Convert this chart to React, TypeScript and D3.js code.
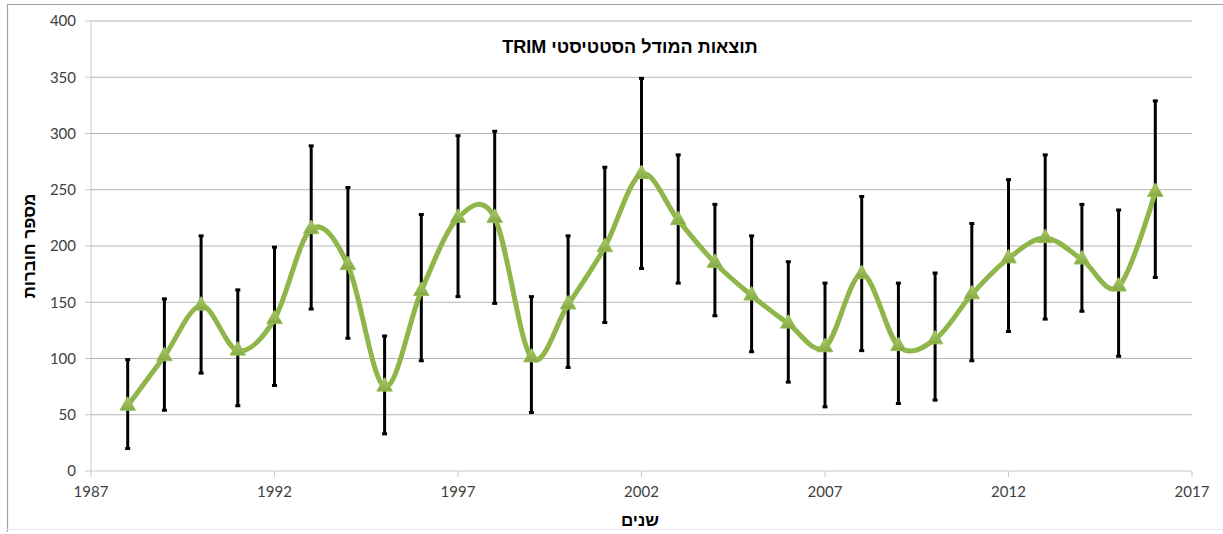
import React from "react";
import * as d3 from "d3";

const years = [1988, 1989, 1990, 1991, 1992, 1993, 1994, 1995, 1996, 1997, 1998, 1999, 2000, 2001, 2002, 2003, 2004, 2005, 2006, 2007, 2008, 2009, 2010, 2011, 2012, 2013, 2014, 2015, 2016];
const values = [58, 102, 147, 107, 135, 215, 183, 75, 160, 225, 225, 101, 148, 199, 264, 223, 185, 156, 131, 110, 175, 111, 117, 157, 189, 207, 188, 164, 248];
const upper = [99, 153, 209, 161, 199, 289, 252, 120, 228, 298, 302, 155, 209, 270, 349, 281, 237, 209, 186, 167, 244, 167, 176, 220, 259, 281, 237, 232, 329];
const lower = [20, 54, 87, 58, 76, 144, 118, 33, 98, 155, 149, 52, 92, 132, 180, 167, 138, 106, 79, 57, 107, 60, 63, 98, 124, 135, 142, 102, 172];
const xTicks = [1987, 1992, 1997, 2002, 2007, 2012, 2017];
const yTicks = [0, 50, 100, 150, 200, 250, 300, 350, 400];

const title = "תוצאות המודל הסטטיסטי TRIM";
const xTitle = "שנים";
const yTitle = "מספר חוברות";

export default function App() {
  const W = 1223, H = 534;
  const x = d3.scaleLinear().domain([1987, 2017]).range([91, 1192]);
  const y = d3.scaleLinear().domain([0, 400]).range([471, 21]);
  const pts: [number, number][] = years.map((yr, i) => [x(yr), y(values[i])]);
  const line = d3.line().curve(d3.curveCardinal.tension(0))(pts) || "";
  const tri = d3.symbol().type(d3.symbolTriangle).size(105)() || "";
  const labelFont = "Lato, 'Open Sans', 'Liberation Sans', sans-serif";
  const hebFont = "'Liberation Sans', 'DejaVu Sans', Arial, sans-serif";
  return (
    <svg width={W} height={H} style={{ position: "absolute", left: 0, top: 0, background: "#fff" }}>
      <defs>
        <linearGradient id="triG" x1="0" y1="0" x2="0" y2="1">
          <stop offset="0%" stopColor="#a9cb6a" />
          <stop offset="100%" stopColor="#86a844" />
        </linearGradient>
      </defs>
      {/* frame */}
      <line x1={7} x2={W} y1={4.5} y2={4.5} stroke="#a0a0a0" strokeWidth={1.2} />
      <line x1={7.5} x2={7.5} y1={4} y2={532} stroke="#a0a0a0" strokeWidth={1.2} />
      <line x1={7} x2={W} y1={529.5} y2={529.5} stroke="#ececec" strokeWidth={1} />
      {/* gridlines */}
      {yTicks.map((t) => (
        <line key={"g" + t} x1={x(1987)} x2={x(2017)} y1={y(t)} y2={y(t)} stroke={t === 0 ? "#c8c8c8" : "#b4b4b4"} strokeWidth={1} />
      ))}
      {/* y axis */}
      <line x1={x(1987)} x2={x(1987)} y1={y(400)} y2={y(0)} stroke="#c8c8c8" strokeWidth={1} />
      {yTicks.map((t) => (
        <line key={"yt" + t} x1={x(1987) - 6} x2={x(1987)} y1={y(t)} y2={y(t)} stroke="#c8c8c8" />
      ))}
      {yTicks.map((t) => (
        <text key={"yl" + t} x={76} y={y(t)} dy="0.35em" textAnchor="end" fontSize={15} fill="#404040" fontFamily={labelFont}>
          {t}
        </text>
      ))}
      {/* x ticks */}
      {xTicks.map((t) => (
        <line key={"xt" + t} x1={x(t)} x2={x(t)} y1={y(0)} y2={y(0) + 6} stroke="#c8c8c8" />
      ))}
      {xTicks.map((t) => (
        <text key={"xl" + t} x={x(t)} y={497} textAnchor="middle" fontSize={15} fill="#404040" fontFamily={labelFont}>
          {t}
        </text>
      ))}
      {/* error bars */}
      {years.map((yr, i) => (
        <g key={"e" + yr} stroke="#000">
          <line x1={x(yr)} x2={x(yr)} y1={y(upper[i])} y2={y(lower[i])} strokeWidth={3} />
          <line x1={x(yr) - 2.5} x2={x(yr) + 2.5} y1={y(upper[i])} y2={y(upper[i])} strokeWidth={3} />
          <line x1={x(yr) - 2.5} x2={x(yr) + 2.5} y1={y(lower[i])} y2={y(lower[i])} strokeWidth={3} />
        </g>
      ))}
      {/* smooth line */}
      <path d={line} fill="none" stroke="#8fb64a" strokeWidth={5} strokeLinejoin="round" strokeLinecap="round" />
      {/* markers */}
      {pts.map(([px, py], i) => (
        <path key={"m" + i} d={tri} transform={`translate(${px},${py})`} fill="url(#triG)" stroke="#98bf55" strokeWidth={1} />
      ))}
      {/* titles */}
      <text x={630} y={53} textAnchor="middle" fontSize={18} fontWeight="bold" fill="#000" fontFamily={hebFont} direction="rtl">
        {title}
      </text>
      <text x={640} y={526} textAnchor="middle" fontSize={17} fontWeight="bold" fill="#000" fontFamily={hebFont}>
        {xTitle}
      </text>
      <text transform={`translate(35,${y(200)}) rotate(-90)`} textAnchor="middle" fontSize={17} fontWeight="bold" fill="#000" fontFamily={hebFont}>
        {yTitle}
      </text>
    </svg>
  );
}
